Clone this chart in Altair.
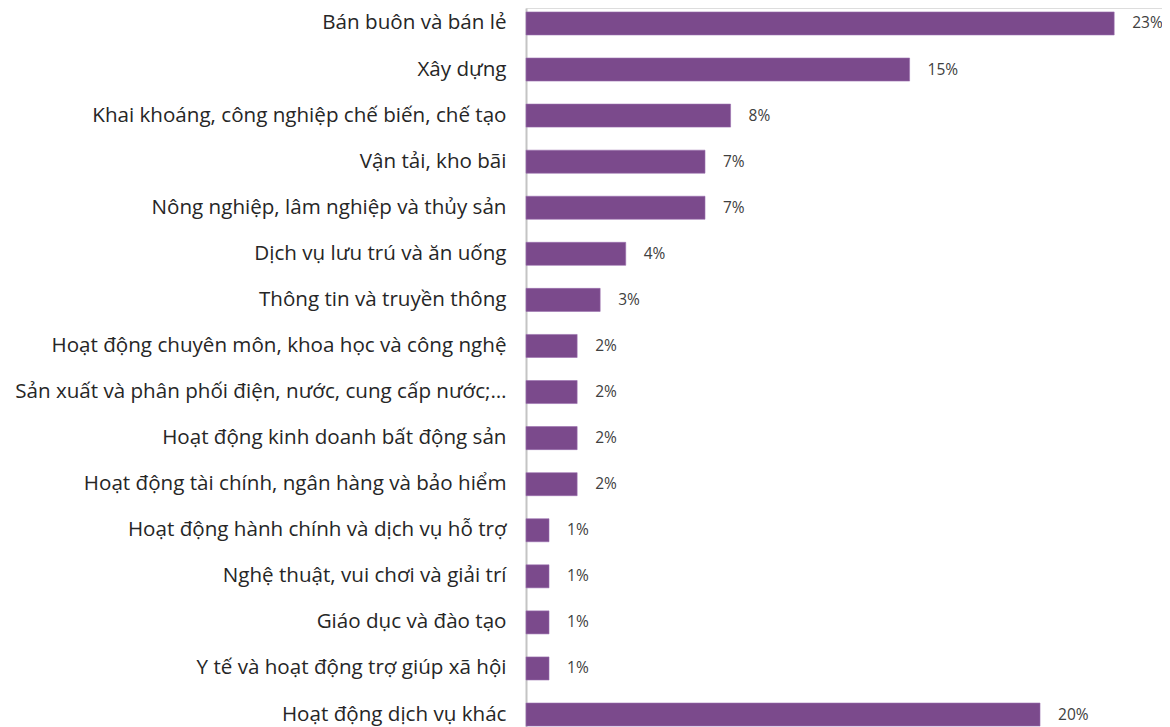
import altair as alt
import pandas as pd

categories = [
    "Bán buôn và bán lẻ",
    "Xây dựng",
    "Khai khoáng, công nghiệp chế biến, chế tạo",
    "Vận tải, kho bãi",
    "Nông nghiệp, lâm nghiệp và thủy sản",
    "Dịch vụ lưu trú và ăn uống",
    "Thông tin và truyền thông",
    "Hoạt động chuyên môn, khoa học và công nghệ",
    "Sản xuất và phân phối điện, nước, cung cấp nước;…",
    "Hoạt động kinh doanh bất động sản",
    "Hoạt động tài chính, ngân hàng và bảo hiểm",
    "Hoạt động hành chính và dịch vụ hỗ trợ",
    "Nghệ thuật, vui chơi và giải trí",
    "Giáo dục và đào tạo",
    "Y tế và hoạt động trợ giúp xã hội",
    "Hoạt động dịch vụ khác",
]
shares = [23.0, 15.0, 8.0, 7.0, 7.0, 3.9, 2.9, 2.0, 2.0, 2.0, 2.0,
          0.9, 0.9, 0.9, 0.9, 20.1]

df = pd.DataFrame({"category": categories, "share": shares})

PURPLE = "#7B4A8C"

y_enc = alt.Y(
    "category:N",
    sort=categories,
    scale=alt.Scale(paddingInner=0.5, paddingOuter=0.0855),
    axis=alt.Axis(
        title=None,
        ticks=False,
        domain=True,
        domainColor="#C4C4C4",
        domainWidth=2,
        labelFont="Open Sans",
        labelFontSize=20.6,
        labelColor="#262626",
        labelPadding=20,
        labelLimit=0,
    ),
)
x_enc = alt.X(
    "share:Q",
    scale=alt.Scale(domain=[0, 24.87], nice=False),
    axis=None,
)

bars = alt.Chart(df).mark_bar(color=PURPLE, stroke="#9A6FAE", strokeWidth=0.6).encode(
    x=x_enc, y=y_enc
)

labels = (
    alt.Chart(df)
    .transform_calculate(label="format(datum.share, '.0f') + '%'")
    .mark_text(align="left", baseline="middle", dx=18, font="Open Sans",
               fontSize=15.5, color="#404040")
    .encode(x=x_enc, y=alt.Y("category:N", sort=categories), text="label:N")
)

chart = (
    alt.layer(bars, labels)
    .properties(
        width=636,
        height=722,
        autosize=alt.AutoSizeParams(type="none"),
        padding={"left": 518, "top": 0, "right": 0, "bottom": 0},
    )
    .configure_view(stroke=None)
    .configure(background="white")
)

chart.save("out.html", embed_options={"renderer": "svg", "actions": False})
